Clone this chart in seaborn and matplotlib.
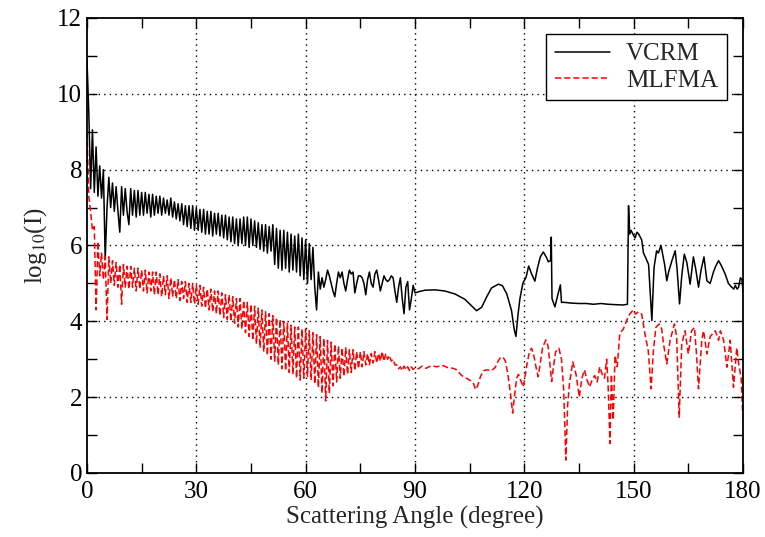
import numpy as np
import pandas as pd
import seaborn as sns
import matplotlib
matplotlib.use("Agg")
import matplotlib.pyplot as plt
from matplotlib.ticker import MultipleLocator

# angles 0..90 deg sampled every 0.5 deg (dense oscillating part)
angle_dense = np.arange(0, 90.01, 0.5)

vcrm_dense = [
    10.9, 9.5, 7.5, 9.05, 7.4, 8.6, 7.3, 8.1, 7.25, 8.0,
    5.65, 7.0, 7.8, 7.0, 7.65, 6.9, 7.55, 6.9, 6.35, 7.55,
    6.8, 7.5, 6.9, 6.55, 7.5, 6.8, 7.45, 6.75, 7.45, 6.8,
    7.4, 6.8, 7.4, 6.85, 7.35, 6.75, 7.35, 6.8, 7.3, 6.85,
    7.3, 6.8, 7.25, 6.85, 7.2, 6.8, 7.25, 6.75, 7.15, 6.7,
    7.1, 6.65, 7.1, 6.55, 7.05, 6.5, 7.05, 6.45, 7.05, 6.4,
    7.0, 6.4, 6.95, 6.35, 6.95, 6.3, 6.9, 6.3, 6.9, 6.25,
    6.85, 6.3, 6.85, 6.25, 6.8, 6.2, 6.8, 6.15, 6.75, 6.1,
    6.75, 6.05, 6.7, 6.0, 6.7, 6.05, 6.75, 6.0, 6.75, 5.95,
    6.7, 6.0, 6.65, 5.95, 6.6, 5.9, 6.55, 5.85, 6.55, 5.8,
    6.5, 5.85, 6.55, 5.5, 6.45, 5.4, 6.4, 5.35, 6.4, 5.4,
    6.35, 5.3, 6.3, 5.35, 6.25, 5.3, 6.3, 5.2, 6.2, 5.1,
    6.15, 5.0, 6.05, 5.1, 5.95, 4.9, 4.3, 5.3, 4.85, 5.15,
    4.9, 5.1, 5.35, 5.2, 5.0, 4.8, 4.65, 5.0, 5.3, 5.15,
    5.3, 5.0, 4.8, 5.1, 5.35, 5.25, 5.3, 4.75, 5.0, 5.2,
    5.2, 5.15, 5.0, 4.7, 5.1, 5.3, 5.0, 4.9, 5.25, 5.35,
    5.1, 4.8, 5.0, 5.2, 5.1, 5.05, 5.1, 5.2, 5.15, 4.8,
    4.5, 4.9, 5.15, 4.6, 4.2, 4.9, 5.05, 4.3, 4.6, 4.95,
    4.75,
]

mlfma_dense = [
    9.0, 7.3, 6.9, 6.4, 6.5, 4.3, 6.1, 5.2, 5.8, 5.1,
    5.7, 4.05, 5.7, 5.0, 5.6, 4.95, 5.55, 4.9, 5.5, 4.45,
    5.5, 4.9, 5.45, 4.85, 5.45, 4.9, 5.4, 4.8, 5.4, 4.85,
    5.35, 4.8, 5.35, 4.75, 5.3, 4.8, 5.3, 4.7, 5.3, 4.7,
    5.25, 4.65, 5.2, 4.7, 5.2, 4.6, 5.15, 4.65, 5.1, 4.6,
    5.1, 4.55, 5.05, 4.6, 5.05, 4.5, 5.0, 4.5, 5.0, 4.45,
    4.95, 4.45, 4.95, 4.4, 4.9, 4.35, 4.85, 4.3, 4.85, 4.25,
    4.8, 4.2, 4.8, 4.15, 4.75, 4.1, 4.7, 4.05, 4.7, 4.0,
    4.65, 3.95, 4.6, 3.85, 4.6, 3.8, 4.55, 3.7, 4.5, 3.6,
    4.45, 3.5, 4.4, 3.4, 4.35, 3.3, 4.3, 3.2, 4.25, 3.1,
    4.2, 3.0, 4.15, 2.95, 4.1, 2.85, 4.05, 2.75, 4.0, 2.7,
    3.95, 2.65, 3.9, 2.6, 3.85, 2.5, 3.85, 2.45, 3.8, 2.5,
    3.8, 2.55, 3.75, 2.45, 3.7, 2.35, 3.65, 2.25, 3.6, 2.1,
    3.55, 1.9, 3.5, 2.1, 3.45, 2.3, 3.4, 2.4, 3.35, 2.5,
    3.3, 2.55, 3.3, 2.6, 3.25, 2.65, 3.25, 2.7, 3.2, 2.75,
    3.2, 2.8, 3.2, 2.85, 3.15, 2.85, 3.15, 2.9, 3.2, 2.9,
    3.15, 2.95, 3.2, 2.95, 3.15, 3.0, 3.1, 2.95, 3.0, 2.85,
    2.85, 2.75, 2.8, 2.7, 2.82, 2.72, 2.8, 2.7, 2.8, 2.73,
    2.78,
]

# beyond 90 deg: read point by point
vcrm_tail_angle = [
    91, 92.7, 95.5, 98.2, 101.0, 103.7, 105.6, 106.9, 108.3, 109.7,
    111.0, 112.9, 114.0, 115.2, 116.5, 117.2, 117.7, 118.3, 118.8, 119.6,
    120.5, 121.2, 122.0, 122.9, 123.6, 124.4, 125.2, 126.0, 126.6, 127.2,
    127.4, 127.6, 128.4, 129.2, 129.9, 130.2, 131, 133, 135, 137,
    139, 141, 143, 145, 147, 148.3, 148.6, 148.9, 149.3, 149.8,
    150.4, 150.9, 151.4, 152.2, 152.7, 153.2, 154.1, 155.0, 155.6, 156.3,
    156.8, 157.5, 158.5, 159.1, 159.6, 160.5, 161.4, 161.9, 162.6, 163.2,
    163.9, 164.6, 165.5, 166.4, 167.0, 167.8, 168.5, 169.3, 170.1, 171.0,
    171.9, 172.5, 173.3, 173.9, 174.4, 175.1, 176.0, 176.9, 177.5, 177.9,
    178.4, 178.8, 179.3, 179.7, 180.0,
]
vcrm_tail = [
    4.78, 4.82, 4.83, 4.8, 4.72, 4.58, 4.4, 4.28, 4.37, 4.65,
    4.88, 4.98, 4.94, 4.72, 4.28, 3.8, 3.6, 4.2, 4.6, 5.0,
    5.17, 5.46, 5.25, 5.06, 5.4, 5.7, 5.83, 5.7, 5.57, 5.6,
    6.22, 4.6, 4.38, 4.7, 4.96, 4.5, 4.5, 4.48, 4.47, 4.47,
    4.45, 4.47, 4.45, 4.44, 4.43, 4.45, 7.05, 6.3, 6.4, 6.3,
    6.2, 6.35, 6.3, 6.15, 5.8, 5.7, 5.5, 4.02, 5.42, 5.86,
    5.8, 6.0, 5.5, 5.07, 5.3, 5.6, 5.86, 5.4, 4.46, 5.2,
    5.77, 5.55, 4.98, 5.7, 5.4, 4.9, 5.35, 5.7, 5.07, 5.0,
    5.3, 5.45, 5.6, 5.5, 5.4, 5.25, 5.0, 4.9, 4.85, 4.95,
    4.85, 4.9, 5.15, 5.1, 4.8,
]

mlfma_tail_angle = [
    91.0, 92.0, 93.0, 94.5, 96.0, 97.5, 99.0, 100.5, 101.5, 102.5,
    103.5, 104.5, 105.5, 106.0, 106.6, 107.2, 108.0, 108.8, 109.8, 111.0,
    112.0, 112.8, 113.5, 114.2, 114.8, 115.5, 116.2, 116.8, 117.4, 117.9,
    118.4, 119.0, 119.7, 120.3, 120.8, 121.4, 122.0, 122.6, 123.2, 123.8,
    124.4, 125.0, 125.9, 126.5, 127.0, 127.5, 128.0, 128.6, 129.5, 130.2,
    130.8, 131.4, 131.9, 132.4, 133.3, 134.2, 135.1, 135.8, 136.5, 137.2,
    137.9, 138.6, 139.3, 140.0, 140.7, 141.4, 142.0, 142.6, 143.0, 143.5,
    143.9, 144.4, 144.9, 145.5, 146.2, 147.2, 148.1, 149.0, 149.9, 150.5,
    151.3, 152.2, 153.1, 154.0, 154.8, 155.4, 156.1, 157.0, 157.7, 158.2,
    159.1, 160.0, 161.2, 161.8, 162.5, 163.2, 164.1, 165.0, 165.9, 166.7,
    167.2, 167.8, 168.7, 169.2, 170.1, 171.0, 172.4, 173.3, 173.8, 174.7,
    175.6, 176.5, 177.4, 178.3, 178.8, 179.5, 180.0,
]
mlfma_tail = [
    2.75, 2.82, 2.76, 2.83, 2.8, 2.84, 2.78, 2.76, 2.72, 2.6,
    2.52, 2.48, 2.42, 2.38, 2.2, 2.3, 2.55, 2.7, 2.72, 2.7,
    2.78, 2.95, 3.05, 3.05, 2.95, 2.6, 2.1, 1.58, 2.1, 2.5,
    2.6, 2.45, 2.27, 2.6, 2.9, 3.2, 3.29, 3.1, 2.8, 2.54,
    2.9, 3.3, 3.51, 3.35, 2.9, 2.41, 2.8, 3.2, 3.29, 3.0,
    2.2, 0.34, 1.8, 2.37, 2.93, 2.6, 2.0, 2.5, 2.72, 2.46,
    2.27, 2.45, 2.57, 2.4, 2.8, 2.6, 2.5, 3.0, 2.3, 0.78,
    2.6, 1.4, 3.1, 2.8, 3.68, 3.8, 4.03, 4.2, 4.3, 4.19,
    4.25, 4.19, 3.67, 3.23, 2.22, 3.2, 3.84, 3.93, 3.8, 3.4,
    2.88, 3.5, 3.93, 3.6, 1.47, 3.4, 3.75, 3.14, 3.75, 3.84,
    3.2, 2.22, 3.5, 3.75, 3.14, 3.6, 3.75, 3.5, 3.75, 3.5,
    2.79, 3.5, 2.26, 3.3, 2.9, 2.5, 1.4,
]

vcrm = pd.DataFrame({
    "angle": np.concatenate([angle_dense, vcrm_tail_angle]),
    "logI": np.concatenate([vcrm_dense, vcrm_tail]),
})
mlfma = pd.DataFrame({
    "angle": np.concatenate([angle_dense, mlfma_tail_angle]),
    "logI": np.concatenate([mlfma_dense, mlfma_tail]),
})

sns.set_style("ticks")
plt.rcParams["font.family"] = ["Liberation Serif", "DejaVu Serif"]
plt.rcParams["mathtext.fontset"] = "stix"

fig = plt.figure(figsize=(7.65, 5.37), dpi=100)
ax = fig.add_axes([0.1137, 0.1192, 0.8575, 0.8473])

sns.lineplot(data=vcrm, x="angle", y="logI", ax=ax, color="black", lw=1.1,
             sort=False, estimator=None, label="VCRM")
sns.lineplot(data=mlfma, x="angle", y="logI", ax=ax, color="red", lw=1.1,
             linestyle=(0, (4, 2)), sort=False, estimator=None, label="MLFMA")

ax.set_xlim(0, 180)
ax.set_ylim(0, 12)
ax.xaxis.set_major_locator(MultipleLocator(30))
ax.xaxis.set_minor_locator(MultipleLocator(15))
ax.yaxis.set_major_locator(MultipleLocator(2))
ax.yaxis.set_minor_locator(MultipleLocator(1))
ax.tick_params(which="both", direction="in", top=True, right=True,
               length=7, width=1.0, labelsize=18, colors="black")
ax.tick_params(axis="x", pad=6)

# dotted grid only at 30..150 and 2..10
for g in [30, 60, 90, 120, 150]:
    ax.axvline(g, color="black", lw=1.0, linestyle=(0, (1, 3)), zorder=0)
for g in [2, 4, 6, 8, 10]:
    ax.axhline(g, color="black", lw=1.0, linestyle=(0, (1, 3)), zorder=0)

for s in ax.spines.values():
    s.set_linewidth(1.3)
    s.set_color("black")

ax.set_xlabel("Scattering Angle (degree)", fontsize=18, labelpad=2)
ax.set_ylabel(r"log$_{10}$(I)", fontsize=18, labelpad=6)

leg = ax.legend(loc="upper right", fontsize=18, frameon=True, fancybox=False,
                edgecolor="black", framealpha=1, borderaxespad=0.65,
                handlelength=2.2, handletextpad=0.65, borderpad=0.35,
                labelspacing=0.15)
leg.get_frame().set_linewidth(1.0)

fig.savefig("out.png", dpi=100)
